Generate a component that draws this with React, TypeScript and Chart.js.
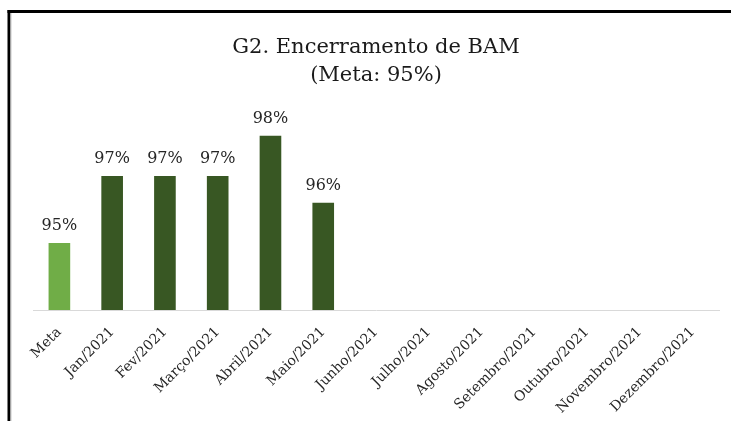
import React, { useEffect, useRef } from "react";
import { Chart, registerables } from "chart.js";

Chart.register(...registerables);

const categories = [
  "Meta",
  "Jan/2021",
  "Fev/2021",
  "Março/2021",
  "Abril/2021",
  "Maio/2021",
  "Junho/2021",
  "Julho/2021",
  "Agosto/2021",
  "Setembro/2021",
  "Outubro/2021",
  "Novembro/2021",
  "Dezembro/2021",
];

const values: (number | null)[] = [95, 97, 97, 97, 98.2, 96.2, null, null, null, null, null, null, null];

const titleLines = ["G2. Encerramento de BAM", "(Meta: 95%)"];

const yMin = 93;
const yMax = 99;

const FONT = "'DejaVu Serif', 'Liberation Serif', serif";

const labelsPlugin = {
  id: "barLabels",
  afterDatasetsDraw(chart: any) {
    const ctx = chart.ctx;
    const meta = chart.getDatasetMeta(0);
    const data = chart.data.datasets[0].data;
    ctx.save();
    ctx.font = `16px ${FONT}`;
    ctx.fillStyle = "#262626";
    ctx.textAlign = "center";
    ctx.textBaseline = "alphabetic";
    meta.data.forEach((el: any, i: number) => {
      const v = data[i];
      if (v === null || v === undefined) return;
      ctx.fillText(`${Math.round(v)}%`, el.x, el.y - 13);
    });
    ctx.restore();
  },
};

const framePlugin = {
  id: "frame",
  afterDraw(chart: any) {
    const ctx = chart.ctx;
    const w = chart.width;
    const h = chart.height;
    ctx.save();
    ctx.fillStyle = "#000";
    ctx.fillRect(7.5, 10, w - 7.5, 3);
    ctx.fillRect(7.5, 10, 3, h - 10);
    ctx.fillStyle = "#c8c8c8";
    ctx.fillRect(10.5, 13, 1, h - 13);
    ctx.restore();
  },
};

export default function App() {
  const canvasRef = useRef<HTMLCanvasElement | null>(null);

  useEffect(() => {
    if (!canvasRef.current) return;
    const chart = new Chart(canvasRef.current, {
      type: "bar",
      data: {
        labels: categories,
        datasets: [
          {
            data: values,
            backgroundColor: (c: any) => (c.dataIndex === 0 ? "#70AD47" : "#385723"),
            barPercentage: 0.41,
            categoryPercentage: 1,
          },
        ],
      },
      options: {
        animation: false,
        responsive: false,
        layout: { padding: { top: 0, left: 33, right: 12, bottom: 0 } },
        plugins: {
          legend: { display: false },
          tooltip: { enabled: false },
          title: {
            display: true,
            text: titleLines,
            color: "#1a1a1a",
            font: { family: FONT, size: 21, weight: "normal", lineHeight: "28px" },
            padding: { top: 34, bottom: 19 },
          },
        },
        scales: {
          x: {
            grid: { display: false, drawTicks: false },
            border: { display: true, color: "#d9d9d9", width: 1 },
            ticks: {
              color: "#262626",
              font: { family: FONT, size: 14 },
              maxRotation: 45,
              minRotation: 45,
              autoSkip: false,
              padding: 14,
            },
            afterFit(scale: any) {
              scale.height = 111;
            },
          },
          y: {
            display: false,
            min: yMin,
            max: yMax,
          },
        },
      },
      plugins: [labelsPlugin, framePlugin],
    });
    return () => chart.destroy();
  }, []);

  return (
    <div style={{ position: "absolute", left: 0, top: 0, width: 731, height: 421 }}>
      <canvas ref={canvasRef} width={731} height={421} style={{ display: "block" }} />
    </div>
  );
}
